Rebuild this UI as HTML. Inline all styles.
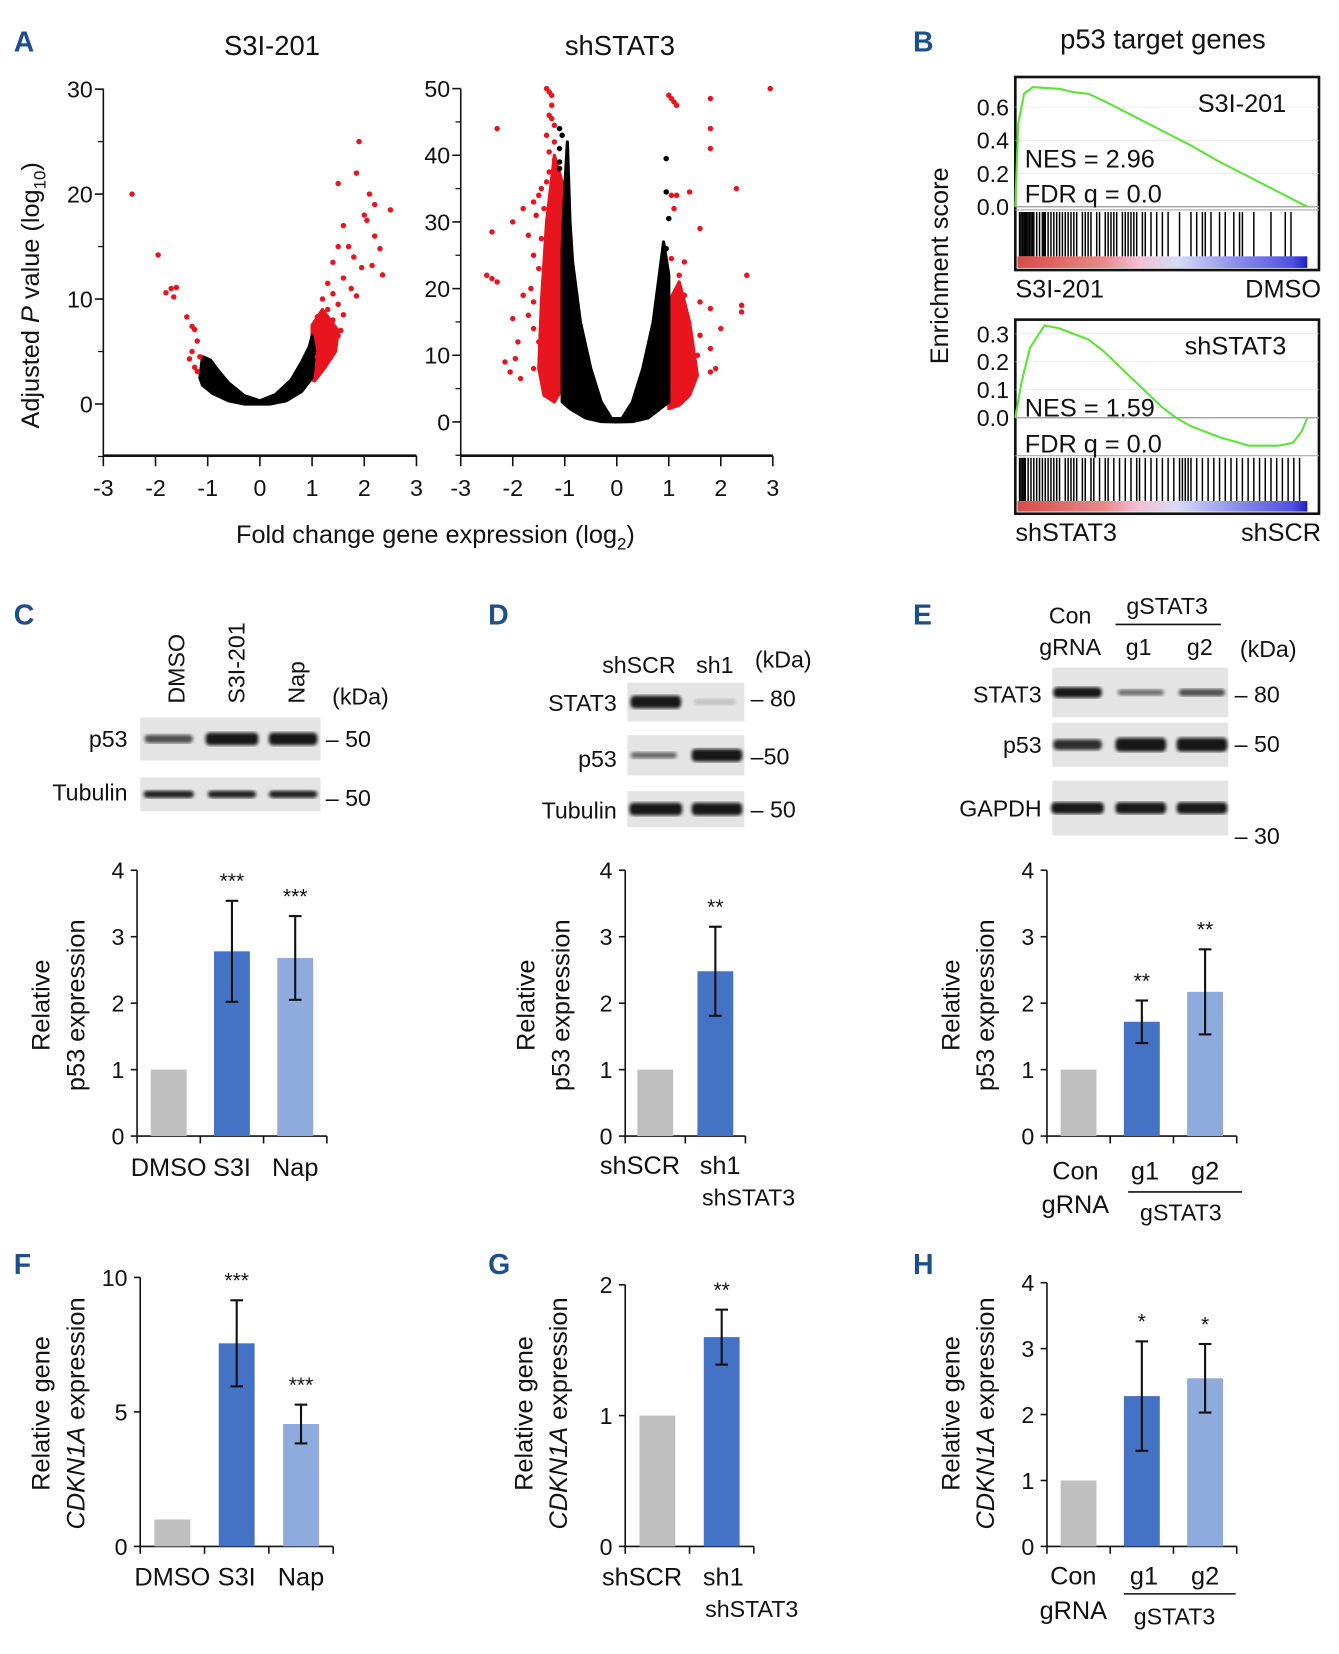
<!DOCTYPE html>
<html><head><meta charset="utf-8">
<style>
html,body{margin:0;padding:0;background:#fff;}
svg{display:block;font-family:"Liberation Sans",Arial,sans-serif;}
</style></head>
<body>
<svg id="fig" width="1339" height="1654" viewBox="0 0 1270 1568" preserveAspectRatio="none" xmlns="http://www.w3.org/2000/svg">
<defs>
<linearGradient id="rank" x1="0" x2="1" y1="0" y2="0">
<stop offset="0" stop-color="#d84a4a"/><stop offset="0.3" stop-color="#e88a8a"/>
<stop offset="0.42" stop-color="#f2c0d8"/><stop offset="0.55" stop-color="#d6dcf4"/>
<stop offset="0.75" stop-color="#8c90ec"/><stop offset="0.95" stop-color="#5050e0"/><stop offset="1" stop-color="#2020c0"/>
</linearGradient>
<filter id="blur"><feGaussianBlur stdDeviation="1.6"/></filter>
</defs>
</svg>
<script>
// ---------- DATA ----------
const leftRedX=[-2.45,-1.95,-1.7,-1.6,-1.8,-1.65,-1.4,-1.3,-1.25,-1.2,-1.3,-1.35,-1.25,-1.2,-1.15,1.9,1.85,1.5,2.1,2.2,2.0,2.05,1.6,2.5,2.2,1.7,1.5,1.8,2.3,1.4,1.95,2.15,2.35,1.6,1.3,1.75,1.4,1.2,1.85,1.5,1.3,1.6,1.1,1.4,1.2,1.55,1.05,1.3,1.45,1.15,1.25,1.35,1.1,1.2,1.4,1.5];
const leftRedY=[20,14.2,11,11.1,10.6,10.2,8.3,7.4,7.1,6,5,4.3,3.5,3.1,4.5,25,22,21,20,19,18,17.5,17,18.5,16,15,15,14,14.8,13.5,13,13.2,12.3,12,11.5,11,10.5,10,10.3,9.5,9,8.5,8.3,8,7.5,7,7,6.5,6,6,5.3,5,4.5,4,5.8,6.5];
const leftBlackX=[-1.15,-1.1,-0.95,-0.8,-0.6,-0.3,0,0.3,0.6,0.8,0.95,1.0,1.05,1.0,0.8,0.5,0.2,0,-0.3,-0.6,-0.9,-1.1];
const leftBlackY=[2.5,4.5,4.2,3.2,2,0.8,0.3,0.9,2.3,4,5.5,6.5,5,2.5,1.2,0.3,0,0,0,0.3,1,1.8];
const leftBandX=[1.0,1.0,1.2,1.5,1.45,1.25,1.05];
const leftBandY=[2.3,7.5,9,7,5,3.5,2.2];
const rightRedX=[-1.35,-1.3,-1.25,-1.25,-1.3,-1.25,-1.2,-1.35,-1.2,-1.3,-1.2,-1.3,-1.35,-1.45,-1.5,-1.6,-1.4,-1.55,-1.8,-2.3,-2.4,-2.0,-1.7,-1.45,-1.6,-1.5,-2.4,-2.5,-2.3,-1.65,-1.8,-1.6,-1.7,-2.0,-1.6,-2.15,-1.95,-2.05,-1.85,-1.6,-1.9,-1.5,1.0,1.05,1.1,1.15,1.8,1.8,1.8,2.3,1.15,1.4,1.05,1.1,1.6,1.05,1.3,1.2,1.6,1.3,1.8,2.5,2.4,2.4,2.0,1.8,1.6,1.9,1.8,1.55,2.95];
const rightRedY=[50,49.5,49,47.5,46,45.5,44.5,43,42,40.5,39.3,37.5,36,35,34,33,32,31,32,44,28.5,30,28,27.5,25,23,21.5,22,21,20,19,18,16,15.5,14,9,9.5,7.5,6.5,8,12,12,49,48.5,48,47.5,48.5,44,41,35,34,34.5,34,32,29,24.5,24,22,18,19,17,22,17.5,16.5,14,11,13,8,7.5,10,50];
const rightBlackPtX=[-1.1,-1.05,-1.1,-1.1,-1.1,0.95,0.95,1.0,0.95];
const rightBlackPtY=[44,43,41,39,38,39.5,34.5,30.5,26];
const rightBandLX=[-1.05,-1.05,-1.2,-1.35,-1.45,-1.5,-1.4,-1.2];
const rightBandLY=[5,36,40,30,18,8,4,3];
const rightBandRX=[1.0,1.0,1.2,1.4,1.55,1.4,1.2];
const rightBandRY=[2,18,21,15,7,4,2.5];
const rightBlackX=[-1.05,-1.05,-1.0,-0.95,-0.9,-0.85,-0.7,-0.5,-0.3,-0.1,0.1,0.3,0.5,0.7,0.85,0.9,1.0,1.0,0.6,0.3,0,-0.3,-0.6,-0.9];
const rightBlackY=[3,26,35,42,30,24,15,8,3,0.5,0.5,3,8,15,24,27,22,3,0.6,0.05,0,0.05,0.6,2];

const es1Pos=[0,0.01,0.03,0.06,0.1,0.15,0.2,0.25,0.3,0.4,0.5,0.6,0.7,0.8,0.9,1.0];
const es1Val=[0,0.5,0.68,0.72,0.715,0.71,0.69,0.68,0.64,0.55,0.46,0.37,0.27,0.18,0.09,0];
const es2Pos=[0,0.02,0.05,0.1,0.15,0.2,0.25,0.3,0.35,0.4,0.45,0.5,0.55,0.6,0.7,0.8,0.85,0.9,0.95,0.98,1.0];
const es2Val=[0,0.12,0.25,0.33,0.32,0.3,0.28,0.24,0.19,0.14,0.09,0.04,0.0,-0.03,-0.07,-0.1,-0.1,-0.1,-0.09,-0.05,0.0];
const hits1=[0,0.005,0.01,0.015,0.02,0.025,0.03,0.035,0.04,0.045,0.05,0.06,0.07,0.08,0.085,0.09,0.1,0.11,0.12,0.13,0.14,0.15,0.16,0.17,0.18,0.19,0.2,0.22,0.23,0.24,0.25,0.27,0.28,0.3,0.31,0.32,0.33,0.34,0.36,0.37,0.38,0.39,0.4,0.41,0.43,0.44,0.46,0.48,0.5,0.52,0.56,0.6,0.62,0.64,0.65,0.67,0.7,0.72,0.75,0.77,0.78,0.82,0.88,0.93,0.95];
const hits2=[0,0.005,0.01,0.015,0.02,0.03,0.04,0.05,0.06,0.07,0.08,0.09,0.1,0.11,0.12,0.13,0.14,0.16,0.17,0.18,0.19,0.2,0.22,0.23,0.25,0.26,0.28,0.3,0.31,0.33,0.35,0.37,0.39,0.41,0.42,0.44,0.46,0.48,0.5,0.52,0.54,0.56,0.57,0.58,0.59,0.6,0.62,0.64,0.66,0.68,0.7,0.72,0.74,0.76,0.78,0.8,0.82,0.84,0.86,0.88,0.9,0.92,0.94,0.96,0.98];

const cCats=["DMSO","S3I","Nap"]; const cVals=[1,2.78,2.68]; const cErrs=[0,0.76,0.63]; const cStars=["","***","***"];
const dCats=["shSCR","sh1"]; const dVals=[1,2.48]; const dErrs=[0,0.67]; const dStars=["","**"];
const eCats=["Con","g1","g2"]; const eVals=[1,1.72,2.17]; const eErrs=[0,0.32,0.64]; const eStars=["","**","**"];
const fCats=["DMSO","S3I","Nap"]; const fVals=[1,7.55,4.55]; const fErrs=[0,1.6,0.72]; const fStars=["","***","***"];
const gCats=["shSCR","sh1"]; const gVals=[1,1.6]; const gErrs=[0,0.21]; const gStars=["","**"];
const hCats=["Con","g1","g2"]; const hVals=[1,2.28,2.55]; const hErrs=[0,0.83,0.52]; const hStars=["","*","*"];
const ticks4=[0,1,2,3,4]; const ticks10=[0,5,10]; const ticks2=[0,1,2];

// ---------- HELPERS ----------
const NS="http://www.w3.org/2000/svg";
const svg=document.getElementById('fig');
function el(tag,attrs,name,parent){
  const e=document.createElementNS(NS,tag);
  for(const k in attrs) e.setAttribute(k,attrs[k]);
  
  
  (parent||svg).appendChild(e);
  return e;
}
function txt(x,y,s,size,name,opts){
  opts=opts||{};
  const a={x:x,y:y,'font-size':size,fill:opts.fill||'#111','text-anchor':opts.anchor||'start'};
  if(opts.weight) a['font-weight']=opts.weight;
  if(opts.rot!==undefined) a.transform='rotate('+opts.rot+' '+x+' '+y+')';
  if(opts.style) a['font-style']=opts.style;
  const t=el('text',a,name);
  if(opts.html) t.innerHTML=s; else t.textContent=s;
  return t;
}
function line(x1,y1,x2,y2,name,w,c){return el('line',{x1:x1,y1:y1,x2:x2,y2:y2,stroke:c||'#111','stroke-width':w||1.5},name);}
function letter(x,y,s){txt(x,y,s,27,'panel-label-'+s.toLowerCase(),{fill:'#1f4e8c',weight:'bold'});}

// ---------- PANEL A ----------
letter(13,49,'A');
txt(258,52,'S3I-201',26,'title-s3i',{anchor:'middle'});
txt(588,52,'shSTAT3',26,'title-shstat3',{anchor:'middle'});
function volcano(o){
  const sx=v=>o.x0+(v+3)*(o.x1-o.x0)/6;
  const sy=v=>o.yZero-v*o.pxPer;
  line(o.x0,o.yTop,o.x0,432,o.id+'-y-axis',1.5);
  line(o.x0,432,o.x1,432,o.id+'-x-axis',2.5);
  for(let v=-3;v<=3;v++){line(sx(v),432,sx(v),442,o.id+'-x-tick',1.5);txt(sx(v),470,String(v),22,o.id+'-x-tick-label',{anchor:'middle'});}
  o.ticks.forEach(v=>{line(o.x0-8,sy(v),o.x0,sy(v),o.id+'-y-tick',1.5);txt(o.x0-10,sy(v)+8,String(v),22,o.id+'-y-tick-label',{anchor:'end'});});
  o.minor.forEach(v=>{line(o.x0-5,sy(v),o.x0,sy(v),o.id+'-y-minor-tick',1.2);});
  const poly=(xs,ys,c,n)=>el('polygon',{points:xs.map((v,i)=>sx(v)+','+sy(ys[i])).join(' '),fill:c,stroke:c,'stroke-width':3,'stroke-linejoin':'round'},n);
  o.bands.forEach(b=>poly(b[0],b[1],'#e8141e',o.id+'-red-band'));
  poly(o.bx,o.by,'#000',o.id+'-black-region');
  o.pts.forEach(p=>p[0].forEach((v,i)=>el('circle',{cx:sx(v),cy:sy(p[1][i]),r:2.6,fill:p[2]},o.id+'-point')));
}
volcano({id:'s3i-volcano',x0:98,x1:395,yZero:383,pxPer:9.95,yTop:84,ticks:[0,10,20,30],minor:[-5,5,15,25],
  bands:[[leftBandX,leftBandY]],bx:leftBlackX,by:leftBlackY,pts:[[leftRedX,leftRedY,'#e8141e']]});
volcano({id:'shstat3-volcano',x0:437,x1:733,yZero:400,pxPer:6.32,yTop:84,ticks:[0,10,20,30,40,50],minor:[-5,5,15,25,35,45],
  bands:[[rightBandLX,rightBandLY],[rightBandRX,rightBandRY]],bx:rightBlackX,by:rightBlackY,
  pts:[[rightRedX,rightRedY,'#e8141e'],[rightBlackPtX,rightBlackPtY,'#000']]});
txt(37,280,'Adjusted <tspan font-style="italic">P</tspan> value (log<tspan font-size="16" dy="6">10</tspan><tspan dy="-6">)</tspan>',24,'volcano-y-axis-title',{anchor:'middle',rot:-90,html:true});
txt(413,515,'Fold change gene expression (log<tspan font-size="16" dy="6">2</tspan><tspan dy="-6">)</tspan>',24,'volcano-x-axis-title',{anchor:'middle',html:true});

// ---------- PANEL B ----------
letter(866,49,'B');
txt(1103,46,'p53 target genes',26,'gsea-title',{anchor:'middle'});
txt(899,252,'Enrichment score',24,'gsea-y-axis-title',{anchor:'middle',rot:-90});
function gsea(o){
  const L=963,R=1251,W=1240-L;
  el('rect',{x:L,y:o.top,width:R-L,height:o.bot-o.top,fill:'#fff',stroke:'#111','stroke-width':2.5},o.id+'-frame');
  const sy=v=>o.zeroY-v*o.pxPer;
  o.ticks.forEach(v=>{line(L,sy(v),R,sy(v),o.id+'-grid',0.6,'#ddd');txt(957,sy(v)+8,v.toFixed(1),22,o.id+'-y-tick-label',{anchor:'end'});});
  line(L,o.zeroY,R,o.zeroY,o.id+'-zero-line',1.2,'#999');
  line(L,o.hitTop-2,R,o.hitTop-2,o.id+'-divider',1,'#aaa');
  o.hits.forEach(h=>line(L+4+h*(W-6),o.hitTop,L+4+h*(W-6),o.barTop,o.id+'-hit',1.4,'#000'));
  el('rect',{x:L+2,y:o.barTop,width:W-2,height:o.bot-o.barTop-2,fill:'url(#rank)'},o.id+'-rank-bar');
  el('polyline',{points:o.pos.map((p,i)=>(L+p*W)+','+sy(o.val[i])).join(' '),fill:'none',stroke:'#5ee23a','stroke-width':2},o.id+'-es-curve');
  txt(1220,o.labY,o.lab,24,o.id+'-label',{anchor:'end'});
  txt(972,o.nesY,o.nes,24,o.id+'-nes');
  txt(972,o.fdrY,'FDR q = 0.0',24,o.id+'-fdr');
  txt(963,o.bot+26,o.lo,24,o.id+'-left-label');
  txt(1253,o.bot+26,o.hi,24,o.id+'-right-label',{anchor:'end'});
}
gsea({id:'gsea-s3i',top:73,bot:256,zeroY:196,pxPer:157.5,ticks:[0,0.2,0.4,0.6],hitTop:201,barTop:243,
  pos:es1Pos,val:es1Val,hits:hits1,lab:'S3I-201',labY:106,nes:'NES = 2.96',nesY:159,fdrY:192,lo:'S3I-201',hi:'DMSO'});
gsea({id:'gsea-shstat3',top:303,bot:487,zeroY:396,pxPer:265,ticks:[0,0.1,0.2,0.3],hitTop:434,barTop:475,
  pos:es2Pos,val:es2Val,hits:hits2,lab:'shSTAT3',labY:336,nes:'NES = 1.59',nesY:395,fdrY:429,lo:'shSTAT3',hi:'shSCR'});

// ---------- BLOTS ----------
function blot(x,y,w,h,bands,name){
  el('rect',{x:x,y:y,width:w,height:h,fill:'#e4e4e4'},name);
  bands.forEach(b=>el('rect',{x:b[0]-b[1]/2,y:y+h/2-b[2]/2,width:b[1],height:b[2],rx:4,fill:'#111','fill-opacity':b[3],filter:'url(#blur)'},name+'-band'));
}
letter(13,592,'C');
txt(175,667,'DMSO',22,'lane-dmso',{rot:-90}); txt(232,667,'S3I-201',22,'lane-s3i',{rot:-90}); txt(289,667,'Nap',22,'lane-nap',{rot:-90});
txt(315,668,'(kDa)',22,'kda-c');
blot(133,680,171,41,[[160,46,8,0.7],[220,50,12,0.95],[278,46,12,0.95]],'blot-c-p53');
blot(133,737,171,32,[[160,48,7,0.9],[220,46,7,0.9],[278,46,7,0.9]],'blot-c-tubulin');
txt(121,708,'p53',22,'blot-label-p53',{anchor:'end'}); txt(121,759,'Tubulin',22,'blot-label-tubulin',{anchor:'end'});
txt(309,708,'– 50',22,'marker-50'); txt(309,764,'– 50',22,'marker-50');

letter(463,592,'D');
txt(606,638,'shSCR',22,'lane-shscr',{anchor:'middle'}); txt(678,638,'sh1',22,'lane-sh1',{anchor:'middle'}); txt(716,633,'(kDa)',22,'kda-d');
blot(595,647,111,37,[[622,48,12,0.95],[678,40,6,0.15]],'blot-d-stat3');
blot(595,697,111,38,[[620,44,6,0.6],[680,48,12,0.95]],'blot-d-p53');
blot(595,750,111,34,[[622,50,12,0.95],[680,48,12,0.95]],'blot-d-tubulin');
txt(585,674,'STAT3',22,'blot-label-stat3',{anchor:'end'}); txt(585,727,'p53',22,'blot-label-p53',{anchor:'end'}); txt(585,776,'Tubulin',22,'blot-label-tubulin',{anchor:'end'});
txt(712,670,'– 80',22,'marker-80'); txt(712,725,'–50',22,'marker-50'); txt(712,775,'– 50',22,'marker-50');

letter(866,592,'E');
txt(1015,591,'Con',22,'lane-con',{anchor:'middle'}); txt(1015,621,'gRNA',22,'lane-grna',{anchor:'middle'});
txt(1107,582,'gSTAT3',22,'lane-gstat3',{anchor:'middle'}); line(1058,592,1158,592,'gstat3-bracket',1.5);
txt(1080,621,'g1',22,'lane-g1',{anchor:'middle'}); txt(1138,621,'g2',22,'lane-g2',{anchor:'middle'}); txt(1176,623,'(kDa)',22,'kda-e');
blot(998,633,167,47,[[1022,46,10,0.95],[1082,44,6,0.55],[1140,44,7,0.7]],'blot-e-stat3');
blot(998,685,167,42,[[1022,46,10,0.85],[1082,48,13,0.95],[1140,48,13,0.95]],'blot-e-p53');
blot(998,740,167,52,[[1022,50,11,0.95],[1082,48,11,0.95],[1140,48,11,0.95]],'blot-e-gapdh');
txt(988,666,'STAT3',22,'blot-label-stat3',{anchor:'end'}); txt(988,714,'p53',22,'blot-label-p53',{anchor:'end'}); txt(988,774,'GAPDH',22,'blot-label-gapdh',{anchor:'end'});
txt(1171,666,'– 80',22,'marker-80'); txt(1171,713,'– 50',22,'marker-50'); txt(1171,800,'– 30',22,'marker-30');

// ---------- BAR CHARTS ----------
const COLORS=['#bfbfbf','#4472c4','#8faadc'];
function bars(o){
  const sy=v=>o.y0-v*(o.y0-o.yTop)/o.max;
  const step=o.step;
  line(o.x0,o.yTop,o.x0,o.y0,o.id+'-y-axis',1.5);
  line(o.x0,o.y0,o.x0+step*o.cats.length,o.y0,o.id+'-x-axis',1.5);
  o.ticks.forEach(v=>{line(o.x0-6,sy(v),o.x0,sy(v),o.id+'-y-tick',1.5);txt(o.x0-12,sy(v)+8,String(v),22,o.id+'-y-tick-label',{anchor:'end'});});
  for(let i=0;i<=o.cats.length;i++) line(o.x0+i*step,o.y0,o.x0+i*step,o.y0+7,o.id+'-x-tick',1.5);
  o.cats.forEach((c,i)=>{
    const cx=o.x0+step*(i+0.5);
    el('rect',{x:cx-17,y:sy(o.vals[i]),width:34,height:o.y0-sy(o.vals[i]),fill:COLORS[i]},o.id+'-bar-'+c.toLowerCase());
    if(o.errs[i]>0){
      const a=sy(o.vals[i]+o.errs[i]),b=sy(o.vals[i]-o.errs[i]);
      line(cx,a,cx,b,o.id+'-error-bar',2); line(cx-6,a,cx+6,a,o.id+'-error-cap',2); line(cx-6,b,cx+6,b,o.id+'-error-cap',2);
      txt(cx,a-12,o.stars[i],20,o.id+'-significance',{anchor:'middle'});
    }
    if(o.catLabels) txt(cx,o.y0+o.labDy,c,24,o.id+'-x-label',{anchor:'middle'});
  });
}
function ytitle(x1,x2,yc,l1,l2,n){txt(x1,yc,l1,24,n+'-line1',{anchor:'middle',rot:-90,html:true});txt(x2,yc,l2,24,n+'-line2',{anchor:'middle',rot:-90,html:true});}

bars({id:'c',x0:130,y0:1077,yTop:825,max:4,step:60,cats:cCats,vals:cVals,errs:cErrs,stars:cStars,ticks:ticks4,catLabels:true,labDy:38});
ytitle(47,80,953,'Relative','p53 expression','c-y-title');
bars({id:'d',x0:593,y0:1077,yTop:825,max:4,step:57,cats:dCats,vals:dVals,errs:dErrs,stars:dStars,ticks:ticks4,catLabels:false});
txt(607,1113,'shSCR',24,'d-x-label',{anchor:'middle'}); txt(683,1113,'sh1',24,'d-x-label',{anchor:'middle'}); txt(710,1143,'shSTAT3',22,'d-group-label',{anchor:'middle'});
ytitle(507,540,953,'Relative','p53 expression','d-y-title');
bars({id:'e',x0:993,y0:1077,yTop:825,max:4,step:60,cats:eCats,vals:eVals,errs:eErrs,stars:eStars,ticks:ticks4,catLabels:false});
txt(1020,1118,'Con',24,'e-x-label',{anchor:'middle'}); txt(1086,1118,'g1',24,'e-x-label',{anchor:'middle'}); txt(1143,1118,'g2',24,'e-x-label',{anchor:'middle'});
txt(1020,1150,'gRNA',24,'e-x-label',{anchor:'middle'}); line(1070,1130,1178,1130,'e-gstat3-bracket',1.5); txt(1120,1157,'gSTAT3',22,'e-group-label',{anchor:'middle'});
ytitle(910,943,953,'Relative','p53 expression','e-y-title');

letter(13,1208,'F');
bars({id:'f',x0:133,y0:1466,yTop:1211,max:10,step:61,cats:fCats,vals:fVals,errs:fErrs,stars:fStars,ticks:ticks10,catLabels:true,labDy:37});
ytitle(47,80,1340,'Relative gene','<tspan font-style="italic">CDKN1A</tspan> expression','f-y-title');
letter(463,1208,'G');
bars({id:'g',x0:593,y0:1466,yTop:1218,max:2,step:61,cats:gCats,vals:gVals,errs:gErrs,stars:gStars,ticks:ticks2,catLabels:false});
txt(609,1503,'shSCR',24,'g-x-label',{anchor:'middle'}); txt(686,1503,'sh1',24,'g-x-label',{anchor:'middle'}); txt(713,1533,'shSTAT3',22,'g-group-label',{anchor:'middle'});
ytitle(505,538,1340,'Relative gene','<tspan font-style="italic">CDKN1A</tspan> expression','g-y-title');
letter(866,1208,'H');
bars({id:'h',x0:993,y0:1466,yTop:1216,max:4,step:60,cats:hCats,vals:hVals,errs:hErrs,stars:hStars,ticks:ticks4,catLabels:false});
txt(1018,1502,'Con',24,'h-x-label',{anchor:'middle'}); txt(1085,1502,'g1',24,'h-x-label',{anchor:'middle'}); txt(1143,1502,'g2',24,'h-x-label',{anchor:'middle'});
txt(1018,1535,'gRNA',24,'h-x-label',{anchor:'middle'}); line(1066,1511,1172,1511,'h-gstat3-bracket',1.5); txt(1114,1540,'gSTAT3',22,'h-group-label',{anchor:'middle'});
ytitle(910,943,1340,'Relative gene','<tspan font-style="italic">CDKN1A</tspan> expression','h-y-title');
</script>
</body></html>
